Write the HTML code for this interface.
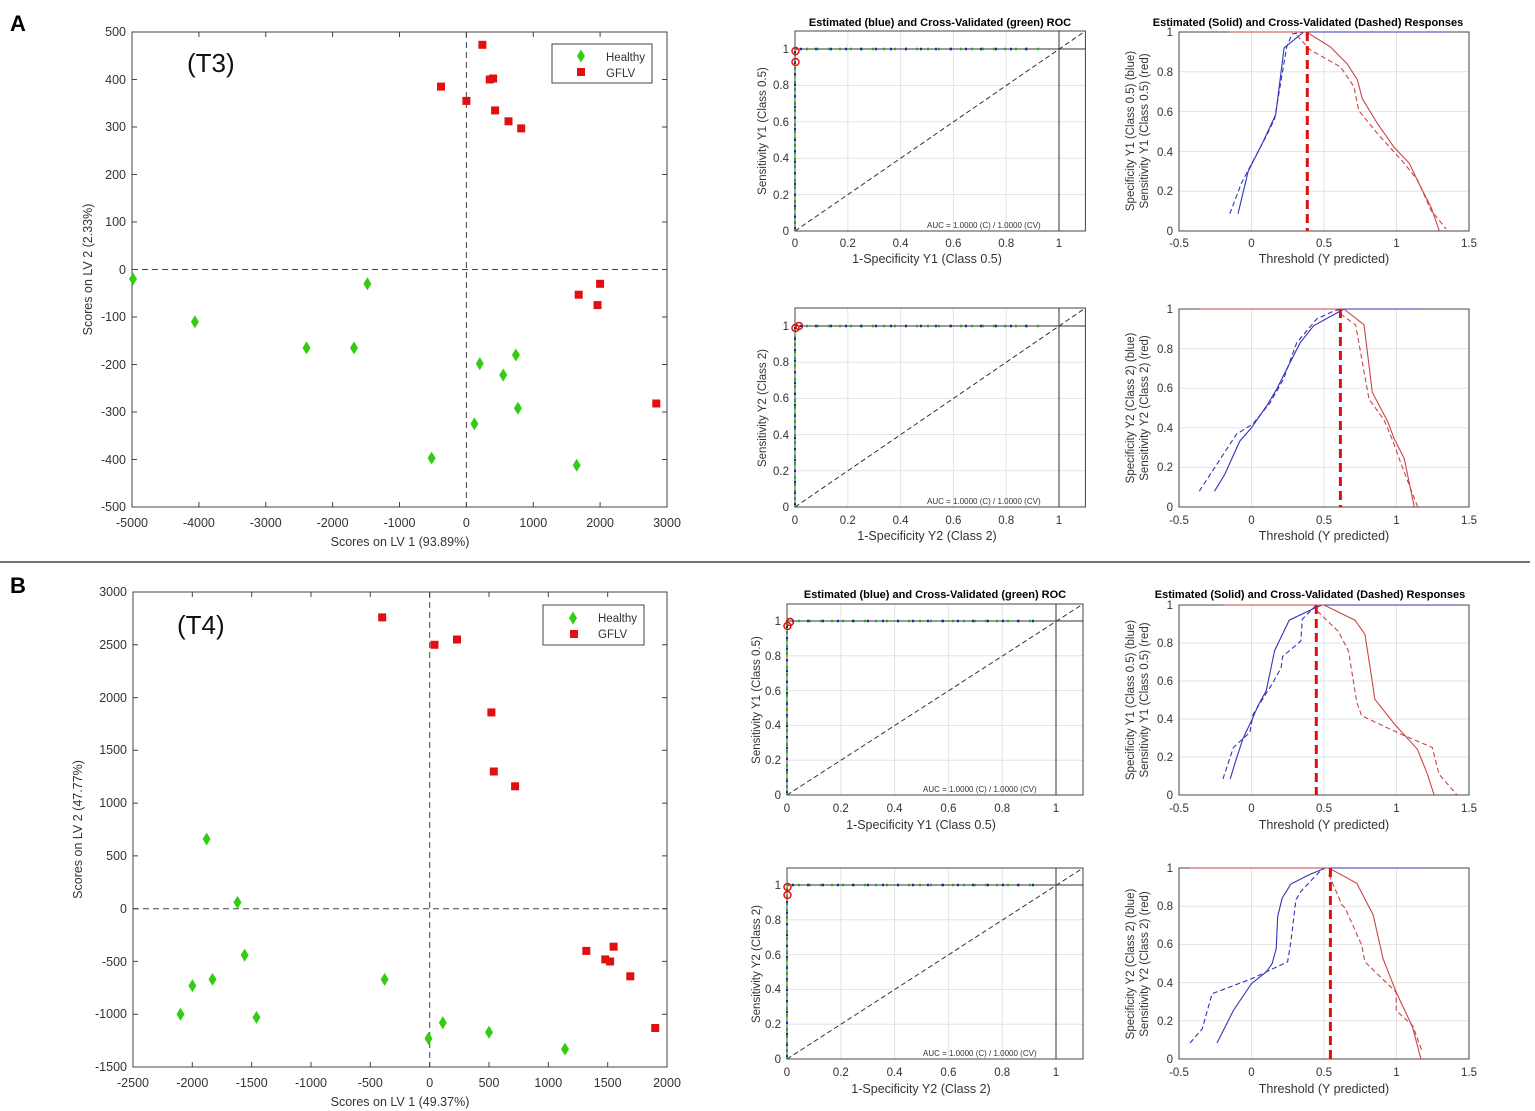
<!DOCTYPE html>
<html><head><meta charset="utf-8"><style>
html,body{margin:0;padding:0;background:#fff}
svg{display:block;font-family:"Liberation Sans",Arial,sans-serif}
.t{font-size:12.5px;fill:#333}
.s{font-size:11.5px;fill:#333}
.g{stroke:#e3e3e3;stroke-width:1}
.bx{fill:none;stroke:#444;stroke-width:1}
.b{fill:none;stroke:#3333bb;stroke-width:1.1}
.r{fill:none;stroke:#cc4444;stroke-width:1.1}
.d{stroke-dasharray:5 3}
</style></head><body>
<svg width="1535" height="1111" viewBox="0 0 1535 1111" xmlns="http://www.w3.org/2000/svg">
<defs>
<g id="dm"><polygon points="0,-6.5 4,0 0,6.5 -4,0" fill="#33cc11"/></g>
<g id="sq"><rect x="-4" y="-4" width="8" height="8" fill="#e01010"/></g>
</defs>
<text x="10" y="31" font-size="22" font-weight="bold">A</text>
<text x="10" y="593" font-size="22" font-weight="bold">B</text>
<line x1="0" y1="562" x2="1530" y2="562" stroke="#222" stroke-width="1.2"/>

<!-- ===== Scatter A ===== -->
<rect x="132" y="32" width="535" height="475" class="bx"/>
<g stroke="#444">
<path d="M198.9,507v-5M265.75,507v-5M332.6,507v-5M399.5,507v-5M466.4,507v-5M533.3,507v-5M600.1,507v-5M198.9,32v5M265.75,32v5M332.6,32v5M399.5,32v5M466.4,32v5M533.3,32v5M600.1,32v5"/>
<path d="M132,79.5h5M132,127h5M132,174.5h5M132,222h5M132,269.5h5M132,317h5M132,364.5h5M132,412h5M132,459.5h5M667,79.5h-5M667,127h-5M667,174.5h-5M667,222h-5M667,269.5h-5M667,317h-5M667,364.5h-5M667,412h-5M667,459.5h-5"/>
</g>
<line x1="466.4" y1="32" x2="466.4" y2="507" stroke="#444" stroke-dasharray="6 4"/>
<line x1="132" y1="269.5" x2="667" y2="269.5" stroke="#444" stroke-dasharray="6 4"/>
<g class="t" text-anchor="middle">
<text x="132" y="527">-5000</text><text x="198.9" y="527">-4000</text><text x="265.75" y="527">-3000</text><text x="332.6" y="527">-2000</text><text x="399.5" y="527">-1000</text><text x="466.4" y="527">0</text><text x="533.3" y="527">1000</text><text x="600.1" y="527">2000</text><text x="667" y="527">3000</text>
<text x="400" y="546">Scores on LV 1 (93.89%)</text>
<text transform="translate(92,269.5) rotate(-90)">Scores on LV 2 (2.33%)</text>
</g>
<g class="t" text-anchor="end">
<text x="126" y="36">500</text><text x="126" y="84">400</text><text x="126" y="131">300</text><text x="126" y="179">200</text><text x="126" y="226">100</text><text x="126" y="274">0</text><text x="126" y="321">-100</text><text x="126" y="369">-200</text><text x="126" y="416">-300</text><text x="126" y="464">-400</text><text x="126" y="511">-500</text>
</g>
<text x="187" y="72" font-size="26" fill="#111">(T3)</text>
<rect x="552" y="44" width="100" height="39" fill="#fff" stroke="#444"/>
<use href="#dm" x="581" y="56"/><use href="#sq" x="581" y="72"/>
<text x="606" y="61" class="s">Healthy</text><text x="606" y="77" class="s">GFLV</text>
<use href="#sq" x="482.4" y="44.8"/><use href="#sq" x="441" y="86.6"/><use href="#sq" x="466.4" y="100.9"/><use href="#sq" x="489.8" y="79.5"/><use href="#sq" x="493.1" y="78.5"/><use href="#sq" x="495.1" y="110.4"/><use href="#sq" x="508.5" y="121.3"/><use href="#sq" x="521.2" y="128.4"/><use href="#sq" x="578.7" y="294.7"/><use href="#sq" x="600.1" y="283.8"/><use href="#sq" x="597.5" y="305.1"/><use href="#sq" x="656.3" y="403.5"/>
<use href="#dm" x="133" y="279"/><use href="#dm" x="194.9" y="321.8"/><use href="#dm" x="367.4" y="283.8"/><use href="#dm" x="306.5" y="347.9"/><use href="#dm" x="354" y="347.9"/><use href="#dm" x="479.8" y="363.6"/><use href="#dm" x="515.9" y="355"/><use href="#dm" x="503.2" y="375"/><use href="#dm" x="517.9" y="408.2"/><use href="#dm" x="474.4" y="423.9"/><use href="#dm" x="431.6" y="458.1"/><use href="#dm" x="576.7" y="465.2"/>

<!-- ===== Scatter B ===== -->
<rect x="133" y="592" width="534" height="475" class="bx"/>
<g stroke="#444">
<path d="M192.3,1067v-5M251.7,1067v-5M311,1067v-5M370.3,1067v-5M429.7,1067v-5M489,1067v-5M548.3,1067v-5M607.7,1067v-5M192.3,592v5M251.7,592v5M311,592v5M370.3,592v5M429.7,592v5M489,592v5M548.3,592v5M607.7,592v5"/>
<path d="M133,644.8h5M133,697.6h5M133,750.3h5M133,803.1h5M133,855.9h5M133,908.7h5M133,961.4h5M133,1014.2h5M667,644.8h-5M667,697.6h-5M667,750.3h-5M667,803.1h-5M667,855.9h-5M667,908.7h-5M667,961.4h-5M667,1014.2h-5"/>
</g>
<line x1="429.7" y1="592" x2="429.7" y2="1067" stroke="#444" stroke-dasharray="6 4"/>
<line x1="133" y1="908.7" x2="667" y2="908.7" stroke="#444" stroke-dasharray="6 4"/>
<g class="t" text-anchor="middle">
<text x="133" y="1087">-2500</text><text x="192.3" y="1087">-2000</text><text x="251.7" y="1087">-1500</text><text x="311" y="1087">-1000</text><text x="370.3" y="1087">-500</text><text x="429.7" y="1087">0</text><text x="489" y="1087">500</text><text x="548.3" y="1087">1000</text><text x="607.7" y="1087">1500</text><text x="667" y="1087">2000</text>
<text x="400" y="1106">Scores on LV 1 (49.37%)</text>
<text transform="translate(82,829.5) rotate(-90)">Scores on LV 2 (47.77%)</text>
</g>
<g class="t" text-anchor="end">
<text x="127" y="596">3000</text><text x="127" y="649">2500</text><text x="127" y="702">2000</text><text x="127" y="754">1500</text><text x="127" y="807">1000</text><text x="127" y="860">500</text><text x="127" y="913">0</text><text x="127" y="966">-500</text><text x="127" y="1018">-1000</text><text x="127" y="1071">-1500</text>
</g>
<text x="177" y="634" font-size="26" fill="#111">(T4)</text>
<rect x="543" y="605" width="101" height="40" fill="#fff" stroke="#444"/>
<use href="#dm" x="573" y="618"/><use href="#sq" x="574" y="634"/>
<text x="598" y="622" class="s">Healthy</text><text x="598" y="638" class="s">GFLV</text>
<use href="#sq" x="382.2" y="617.4"/><use href="#sq" x="434.5" y="644.8"/><use href="#sq" x="457" y="639.5"/><use href="#sq" x="491.4" y="712.4"/><use href="#sq" x="493.8" y="771.5"/><use href="#sq" x="515.1" y="786.3"/><use href="#sq" x="586.3" y="950.9"/><use href="#sq" x="605.3" y="959.4"/><use href="#sq" x="610.1" y="961.5"/><use href="#sq" x="613.6" y="946.7"/><use href="#sq" x="630.3" y="976.3"/><use href="#sq" x="655.2" y="1028"/>
<use href="#dm" x="206.6" y="839"/><use href="#dm" x="237.5" y="902.4"/><use href="#dm" x="244.6" y="955.1"/><use href="#dm" x="212.5" y="979.4"/><use href="#dm" x="192.4" y="985.8"/><use href="#dm" x="180.5" y="1014.3"/><use href="#dm" x="256.5" y="1017.4"/><use href="#dm" x="384.6" y="979.4"/><use href="#dm" x="442.8" y="1022.7"/><use href="#dm" x="428.5" y="1038.5"/><use href="#dm" x="489" y="1032.2"/><use href="#dm" x="565" y="1049.1"/>

<!-- ===== ROC A top ===== -->
<g class="g"><path d="M847.8,31v200M900.6,31v200M953.4,31v200M1006.2,31v200M795,194.6h290M795,158.2h290M795,121.8h290M795,85.4h290"/></g>
<rect x="795" y="31" width="290.4" height="200" class="bx"/>
<line x1="795" y1="231" x2="1085.4" y2="31" stroke="#333" stroke-dasharray="5 3"/>
<path d="M795,49H1085.4M1059,31V231" stroke="#333" fill="none"/>
<path d="M795,49H1040" stroke="#22aa22" stroke-width="2.5" stroke-dasharray="2 9"/>
<path d="M800,49H1040" stroke="#2222aa" stroke-width="2.5" stroke-dasharray="2 13"/>
<path d="M795,231V49" stroke="#22aa22" stroke-width="2" stroke-dasharray="3 4"/>
<path d="M795,229V49" stroke="#2222aa" stroke-width="2" stroke-dasharray="2 9"/>
<circle cx="795.5" cy="51" r="3.5" fill="none" stroke="#e01010" stroke-width="1.5"/><circle cx="795.5" cy="62" r="3.5" fill="none" stroke="#e01010" stroke-width="1.5"/>
<text x="927" y="228" font-size="8" fill="#333">AUC = 1.0000 (C) / 1.0000 (CV)</text>
<text x="940" y="26" font-size="11" font-weight="bold" text-anchor="middle">Estimated (blue) and Cross-Validated (green) ROC</text>
<g class="s" text-anchor="middle">
<text x="795" y="247">0</text><text x="847.8" y="247">0.2</text><text x="900.6" y="247">0.4</text><text x="953.4" y="247">0.6</text><text x="1006.2" y="247">0.8</text><text x="1059" y="247">1</text>
<text x="927" y="263" class="t">1-Specificity Y1 (Class 0.5)</text>
<text transform="translate(766,131) rotate(-90)">Sensitivity Y1 (Class 0.5)</text>
</g>
<g class="s" text-anchor="end"><text x="789" y="235">0</text><text x="789" y="199">0.2</text><text x="789" y="162">0.4</text><text x="789" y="126">0.6</text><text x="789" y="89">0.8</text><text x="789" y="53">1</text></g>

<!-- ===== ROC A bottom ===== -->
<g class="g"><path d="M847.8,308v199M900.6,308v199M953.4,308v199M1006.2,308v199M795,470.8h290M795,434.6h290M795,398.4h290M795,362.2h290"/></g>
<rect x="795" y="308" width="290.4" height="199" class="bx"/>
<line x1="795" y1="507" x2="1085.4" y2="308" stroke="#333" stroke-dasharray="5 3"/>
<path d="M795,326H1085.4M1059,308V507" stroke="#333" fill="none"/>
<path d="M795,326H1040" stroke="#22aa22" stroke-width="2.5" stroke-dasharray="2 9"/>
<path d="M800,326H1040" stroke="#2222aa" stroke-width="2.5" stroke-dasharray="2 13"/>
<path d="M795,507V326" stroke="#22aa22" stroke-width="2" stroke-dasharray="3 4"/>
<path d="M795,505V326" stroke="#2222aa" stroke-width="2" stroke-dasharray="2 9"/>
<circle cx="795.5" cy="328" r="3.5" fill="none" stroke="#e01010" stroke-width="1.5"/><circle cx="799" cy="326" r="3.5" fill="none" stroke="#e01010" stroke-width="1.5"/>
<text x="927" y="504" font-size="8" fill="#333">AUC = 1.0000 (C) / 1.0000 (CV)</text>
<g class="s" text-anchor="middle">
<text x="795" y="524">0</text><text x="847.8" y="524">0.2</text><text x="900.6" y="524">0.4</text><text x="953.4" y="524">0.6</text><text x="1006.2" y="524">0.8</text><text x="1059" y="524">1</text>
<text x="927" y="540" class="t">1-Specificity Y2 (Class 2)</text>
<text transform="translate(766,408) rotate(-90)">Sensitivity Y2 (Class 2)</text>
</g>
<g class="s" text-anchor="end"><text x="789" y="511">0</text><text x="789" y="475">0.2</text><text x="789" y="439">0.4</text><text x="789" y="402">0.6</text><text x="789" y="366">0.8</text><text x="789" y="330">1</text></g>

<!-- ===== ROC B top ===== -->
<g class="g"><path d="M840.8,604v191M894.6,604v191M948.4,604v191M1002.2,604v191M787,760.2h296M787,725.4h296M787,690.6h296M787,655.8h296"/></g>
<rect x="787" y="604" width="296" height="191" class="bx"/>
<line x1="787" y1="795" x2="1083" y2="604" stroke="#333" stroke-dasharray="5 3"/>
<path d="M787,621H1083M1056,604V795" stroke="#333" fill="none"/>
<path d="M787,621H1035" stroke="#22aa22" stroke-width="2.5" stroke-dasharray="2 9"/>
<path d="M792,621H1035" stroke="#2222aa" stroke-width="2.5" stroke-dasharray="2 13"/>
<path d="M787,795V621" stroke="#22aa22" stroke-width="2" stroke-dasharray="3 4"/>
<path d="M787,793V621" stroke="#2222aa" stroke-width="2" stroke-dasharray="2 9"/>
<circle cx="787.5" cy="626" r="3.5" fill="none" stroke="#e01010" stroke-width="1.5"/><circle cx="790" cy="622" r="3.5" fill="none" stroke="#e01010" stroke-width="1.5"/>
<text x="923" y="792" font-size="8" fill="#333">AUC = 1.0000 (C) / 1.0000 (CV)</text>
<text x="935" y="598" font-size="11" font-weight="bold" text-anchor="middle">Estimated (blue) and Cross-Validated (green) ROC</text>
<g class="s" text-anchor="middle">
<text x="787" y="812">0</text><text x="840.8" y="812">0.2</text><text x="894.6" y="812">0.4</text><text x="948.4" y="812">0.6</text><text x="1002.2" y="812">0.8</text><text x="1056" y="812">1</text>
<text x="921" y="829" class="t">1-Specificity Y1 (Class 0.5)</text>
<text transform="translate(760,700) rotate(-90)">Sensitivity Y1 (Class 0.5)</text>
</g>
<g class="s" text-anchor="end"><text x="781" y="799">0</text><text x="781" y="764">0.2</text><text x="781" y="729">0.4</text><text x="781" y="695">0.6</text><text x="781" y="660">0.8</text><text x="781" y="625">1</text></g>

<!-- ===== ROC B bottom ===== -->
<g class="g"><path d="M840.8,868v191M894.6,868v191M948.4,868v191M1002.2,868v191M787,1024.2h296M787,989.4h296M787,954.6h296M787,919.8h296"/></g>
<rect x="787" y="868" width="296" height="191" class="bx"/>
<line x1="787" y1="1059" x2="1083" y2="868" stroke="#333" stroke-dasharray="5 3"/>
<path d="M787,885H1083M1056,868V1059" stroke="#333" fill="none"/>
<path d="M787,885H1040" stroke="#22aa22" stroke-width="2.5" stroke-dasharray="2 9"/>
<path d="M792,885H1040" stroke="#2222aa" stroke-width="2.5" stroke-dasharray="2 13"/>
<path d="M787,1059V885" stroke="#22aa22" stroke-width="2" stroke-dasharray="3 4"/>
<path d="M787,1057V885" stroke="#2222aa" stroke-width="2" stroke-dasharray="2 9"/>
<circle cx="787.5" cy="887" r="3.5" fill="none" stroke="#e01010" stroke-width="1.5"/><circle cx="787.5" cy="895" r="3.5" fill="none" stroke="#e01010" stroke-width="1.5"/>
<text x="923" y="1056" font-size="8" fill="#333">AUC = 1.0000 (C) / 1.0000 (CV)</text>
<g class="s" text-anchor="middle">
<text x="787" y="1076">0</text><text x="840.8" y="1076">0.2</text><text x="894.6" y="1076">0.4</text><text x="948.4" y="1076">0.6</text><text x="1002.2" y="1076">0.8</text><text x="1056" y="1076">1</text>
<text x="921" y="1093" class="t">1-Specificity Y2 (Class 2)</text>
<text transform="translate(760,964) rotate(-90)">Sensitivity Y2 (Class 2)</text>
</g>
<g class="s" text-anchor="end"><text x="781" y="1063">0</text><text x="781" y="1028">0.2</text><text x="781" y="993">0.4</text><text x="781" y="959">0.6</text><text x="781" y="924">0.8</text><text x="781" y="889">1</text></g>

<!-- ===== Response A top ===== -->
<g class="g"><path d="M1251.5,32v199M1324,32v199M1396.5,32v199M1179,191.2h290M1179,151.4h290M1179,111.6h290M1179,71.8h290"/></g>
<rect x="1179" y="32" width="290" height="199" class="bx"/>
<polyline class="b" points="1238,213.7 1248.2,171.3 1263.2,141.5 1275.7,114.6 1284.1,47.9 1303.7,32 1444.4,32"/>
<polyline class="b d" points="1229.8,213.7 1241.4,183.2 1266.6,135.5 1274.7,118.6 1286.7,46.9 1292.1,34 1303.7,32"/>
<polyline class="r" points="1229.8,32 1306.6,32 1330.4,46.9 1347.2,63.8 1357.4,79.8 1362.3,98.7 1377.4,123.5 1394.2,147.4 1409.3,163.3 1419.3,184.2 1431,207.1 1439.4,231"/>
<polyline class="r d" points="1296.9,35.4 1310.2,49.9 1340.4,66.8 1353.9,86.7 1358.8,110.6 1377.4,133.5 1404.2,163.3 1417.7,180.3 1431,210.3 1446.2,229"/>
<line x1="1307.3" y1="32" x2="1307.3" y2="231" stroke="#e01010" stroke-width="3" stroke-dasharray="9 5"/>
<text x="1308" y="26" font-size="11" font-weight="bold" text-anchor="middle">Estimated (Solid) and Cross-Validated (Dashed) Responses</text>
<g class="s" text-anchor="middle">
<text x="1179" y="247">-0.5</text><text x="1251.5" y="247">0</text><text x="1324" y="247">0.5</text><text x="1396.5" y="247">1</text><text x="1469" y="247">1.5</text>
<text x="1324" y="263" class="t">Threshold (Y predicted)</text>
<text transform="translate(1134,131) rotate(-90)">Specificity Y1 (Class 0.5) (blue)</text>
<text transform="translate(1148,131) rotate(-90)">Sensitivity Y1 (Class 0.5) (red)</text>
</g>
<g class="s" text-anchor="end"><text x="1173" y="235">0</text><text x="1173" y="195">0.2</text><text x="1173" y="156">0.4</text><text x="1173" y="116">0.6</text><text x="1173" y="76">0.8</text><text x="1173" y="36">1</text></g>

<!-- ===== Response A bottom ===== -->
<g class="g"><path d="M1251.5,309v198M1324,309v198M1396.5,309v198M1179,467.4h290M1179,427.8h290M1179,388.2h290M1179,348.6h290"/></g>
<rect x="1179" y="309" width="290" height="198" class="bx"/>
<polyline class="b" points="1214.5,491.2 1224.7,474.5 1239.8,441.1 1251.5,427.8 1266.6,406 1276.7,389.2 1290.1,362.5 1300.2,342.7 1313.6,325.8 1340.4,311 1344.3,309 1417.7,309"/>
<polyline class="b d" points="1199.3,491.2 1236.4,434.3 1253,423.8 1269.9,403.1 1283.4,379.3 1296.7,342.7 1316.8,318.9 1333.7,311 1341.4,309"/>
<polyline class="r" points="1199.3,309 1343.9,309 1364,324.8 1372.3,392.2 1387.8,421.9 1394.2,438.7 1404.2,458.5 1414.3,507"/>
<polyline class="r d" points="1340.4,314 1355.6,324.8 1369,399.1 1384,419.9 1392.4,439.7 1400.9,463.4 1417.7,507"/>
<line x1="1340.4" y1="309" x2="1340.4" y2="507" stroke="#e01010" stroke-width="3" stroke-dasharray="9 5"/>
<g class="s" text-anchor="middle">
<text x="1179" y="524">-0.5</text><text x="1251.5" y="524">0</text><text x="1324" y="524">0.5</text><text x="1396.5" y="524">1</text><text x="1469" y="524">1.5</text>
<text x="1324" y="540" class="t">Threshold (Y predicted)</text>
<text transform="translate(1134,408) rotate(-90)">Specificity Y2 (Class 2) (blue)</text>
<text transform="translate(1148,408) rotate(-90)">Sensitivity Y2 (Class 2) (red)</text>
</g>
<g class="s" text-anchor="end"><text x="1173" y="511">0</text><text x="1173" y="471">0.2</text><text x="1173" y="432">0.4</text><text x="1173" y="392">0.6</text><text x="1173" y="353">0.8</text><text x="1173" y="313">1</text></g>

<!-- ===== Response B top ===== -->
<g class="g"><path d="M1251.5,605v190M1324,605v190M1396.5,605v190M1179,757h290M1179,719h290M1179,681h290M1179,643h290"/></g>
<rect x="1179" y="605" width="290" height="190" class="bx"/>
<polyline class="b" points="1230.2,779 1235.1,762.7 1243.2,738 1251.5,720.9 1258,705.7 1266.3,690.5 1274.6,650.6 1289.2,620.2 1315.3,607.7 1322.3,605 1457.4,605"/>
<polyline class="b d" points="1222.9,779 1233.4,747.5 1249.9,732.3 1253.1,714.3 1272.8,682.9 1281.1,667.7 1282.7,656.3 1300.8,641.1 1302.3,619.3 1315.3,606"/>
<polyline class="r" points="1223.5,605 1324,605 1355,620.2 1364.9,634.3 1371.6,677.2 1374.8,699.2 1394.5,724.1 1417.5,749.4 1427.4,774.1 1434.1,795"/>
<polyline class="r d" points="1317.3,611.1 1338.5,631.6 1348.5,651 1356.8,702.5 1361.7,715.8 1401.1,734.2 1432.3,747.5 1439,774.1 1457,795"/>
<line x1="1316.3" y1="605" x2="1316.3" y2="795" stroke="#e01010" stroke-width="3" stroke-dasharray="9 5"/>
<text x="1310" y="598" font-size="11" font-weight="bold" text-anchor="middle">Estimated (Solid) and Cross-Validated (Dashed) Responses</text>
<g class="s" text-anchor="middle">
<text x="1179" y="812">-0.5</text><text x="1251.5" y="812">0</text><text x="1324" y="812">0.5</text><text x="1396.5" y="812">1</text><text x="1469" y="812">1.5</text>
<text x="1324" y="829" class="t">Threshold (Y predicted)</text>
<text transform="translate(1134,700) rotate(-90)">Specificity Y1 (Class 0.5) (blue)</text>
<text transform="translate(1148,700) rotate(-90)">Sensitivity Y1 (Class 0.5) (red)</text>
</g>
<g class="s" text-anchor="end"><text x="1173" y="799">0</text><text x="1173" y="761">0.2</text><text x="1173" y="723">0.4</text><text x="1173" y="685">0.6</text><text x="1173" y="647">0.8</text><text x="1173" y="609">1</text></g>

<!-- ===== Response B bottom ===== -->
<g class="g"><path d="M1251.5,868v191M1324,868v191M1396.5,868v191M1179,1020.8h290M1179,982.6h290M1179,944.4h290M1179,906.2h290"/></g>
<rect x="1179" y="868" width="290" height="191" class="bx"/>
<polyline class="b" points="1217,1043 1233.4,1010.5 1251.5,983.6 1266.3,971.9 1272.2,963.5 1276.2,948.4 1277.7,916.5 1282.1,898.2 1290.9,884 1309.1,874.7 1325.5,868 1424.1,868"/>
<polyline class="b d" points="1190,1043 1202.2,1028.8 1212.1,993.7 1251.5,978.8 1287.6,961.8 1290.9,941.7 1295.9,899.9 1300.8,891.5 1320.5,870.7 1324,868"/>
<polyline class="r" points="1190,868 1328.8,868 1356.8,883.3 1373.2,915 1383,958.5 1396.2,992.2 1412.6,1027.1 1420.9,1059"/>
<polyline class="r d" points="1328.8,874.7 1342,904.9 1345.2,908.1 1361.7,945.2 1364.9,961.8 1396.2,992.2 1396.2,1010.5 1412.6,1025.6 1422.5,1052.3"/>
<line x1="1330.4" y1="868" x2="1330.4" y2="1059" stroke="#e01010" stroke-width="3" stroke-dasharray="9 5"/>
<g class="s" text-anchor="middle">
<text x="1179" y="1076">-0.5</text><text x="1251.5" y="1076">0</text><text x="1324" y="1076">0.5</text><text x="1396.5" y="1076">1</text><text x="1469" y="1076">1.5</text>
<text x="1324" y="1093" class="t">Threshold (Y predicted)</text>
<text transform="translate(1134,964) rotate(-90)">Specificity Y2 (Class 2) (blue)</text>
<text transform="translate(1148,964) rotate(-90)">Sensitivity Y2 (Class 2) (red)</text>
</g>
<g class="s" text-anchor="end"><text x="1173" y="1063">0</text><text x="1173" y="1025">0.2</text><text x="1173" y="987">0.4</text><text x="1173" y="948">0.6</text><text x="1173" y="910">0.8</text><text x="1173" y="872">1</text></g>
</svg>
</body></html>
